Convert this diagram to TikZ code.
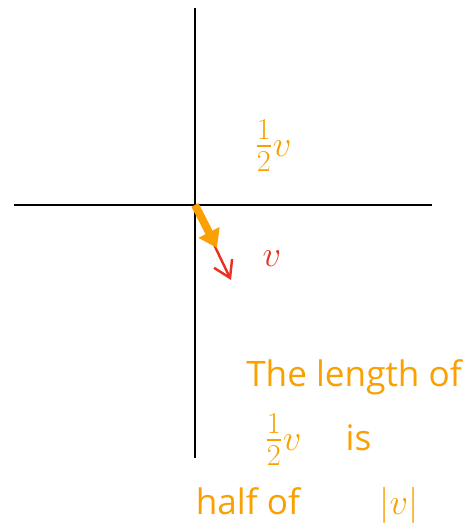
\documentclass[tikz,border=0pt]{standalone}
\usepackage{amsmath}
\usepackage{fontspec}
\setmainfont{Open Sans}
\usetikzlibrary{arrows.meta,positioning}
\definecolor{penorange}{RGB}{250,160,0}
\definecolor{penred}{RGB}{232,50,35}
\newcommand{\halfv}{{\fontsize{27}{30}\selectfont$\frac{1}{2}$}$v$}
\tikzset{
  axline/.style={black, line width=1.6pt},
  vecv/.style={-{Straight Barb[length=3.2mm,width=4mm]}, penred, line width=1.4pt},
  vechalf/.style={-{Triangle[length=3.5mm,width=4.5mm]}, penorange, line width=4.5pt},
  olab/.style={text=penorange, font=\fontsize{20}{24}\selectfont},
  rlab/.style={text=penred, font=\fontsize{20}{24}\selectfont},
}
\begin{document}
\begin{tikzpicture}[x=0.02cm, y=-0.02cm]
  \useasboundingbox (0,0) rectangle (475,531);
  % axes
  \coordinate (origin) at (195,205);
  \coordinate (xl) at (14,205);  \coordinate (xr) at (432,205);
  \coordinate (yt) at (195,8);   \coordinate (yb) at (195,458);
  \draw[axline] (xl) -- (xr);
  \draw[axline] (yt) -- (yb);
  % vectors
  \coordinate (vtip) at (231,280);
  \coordinate (htip) at (217,248);
  \draw[vecv] (origin) -- (vtip);
  \draw[vechalf] (origin) -- (htip);
  % labels
  \node[olab] (halflab) at (273,146) {\halfv};
  \node[rlab] (vlab) at (272,259) {$v$};
  \node[olab] (line1) at (354,377) {The length of};
  \node[olab] (line2) at (318,440) {\halfv\quad\ is};
  \node[olab] (line3) at (307,505) {half of\qquad\ $|v|$};
\end{tikzpicture}
\end{document}
